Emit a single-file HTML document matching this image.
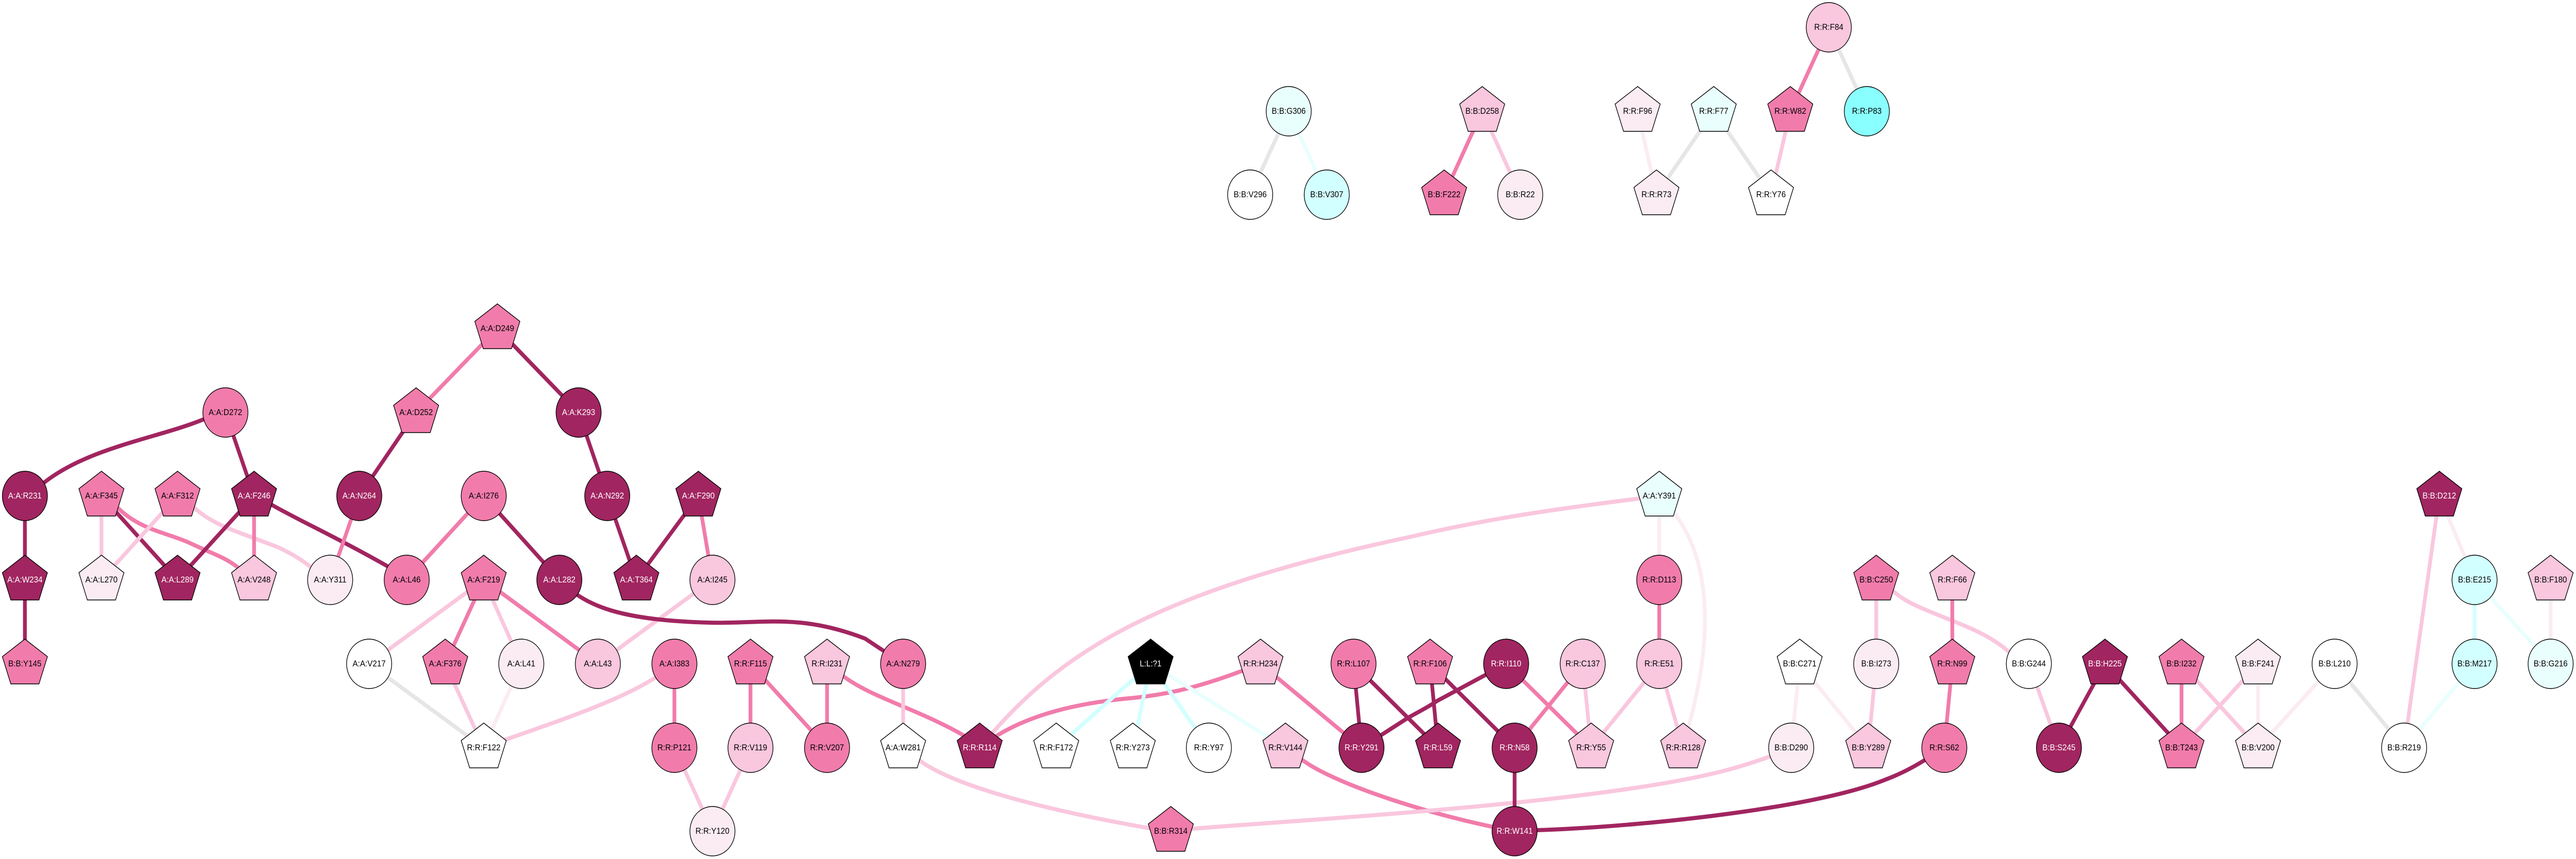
<!DOCTYPE html>
<html><head><meta charset="utf-8"><style>
html,body{margin:0;padding:0;background:#fff;overflow:hidden}
svg{display:block;width:100vw;height:100vh}
text{font-family:"Liberation Sans",Arial,sans-serif;font-size:16.7px;text-anchor:middle;fill:#000}
.n polygon,.n circle{stroke:#000;stroke-width:1.4}
path{fill:none;stroke-width:8}
.D{stroke:#a12560}.M{stroke:#f17cab}.L{stroke:#f9c7de}.V{stroke:#fbecf3}.G{stroke:#e6e6e6}.C{stroke:#d2ffff}.E{stroke:#e9fffd}
.fD{fill:#a12560}.fM{fill:#f17cab}.fL{fill:#f9c7de}.fV{fill:#fbecf3}.fW{fill:#fff}.fC{fill:#d2ffff}.fE{fill:#e9fffd}.fA{fill:#8affff}.fK{fill:#000}
.w{fill:#fff}
</style></head><body>
<svg xmlns="http://www.w3.org/2000/svg" viewBox="0 0 5485 1668" preserveAspectRatio="none">
<g class="e">
<path class="M" d="M1059,638L886,801"/>
<path class="D" d="M1059,638L1232,801"/>
<path class="D" d="M886,801L765,963"/>
<path class="D" d="M1232,801L1293,963"/>
<path class="D" d="M1293,963L1355,1126"/>
<path class="D" d="M1487,963L1355,1126"/>
<path class="M" d="M1487,963L1517,1126"/>
<path class="L" d="M1517,1126L1273,1289"/>
<path class="D" d="M480,801L434,814C340,850 190,868 94,937L53,963"/>
<path class="D" d="M480,801L541,963"/>
<path class="D" d="M53,963L53,1126"/>
<path class="D" d="M53,1126L53,1289"/>
<path class="L" d="M216,963L216,1126"/>
<path class="D" d="M216,963L378,1126"/>
<path class="M" d="M216,963L252,987C300,1030 360,1035 408,1056S475,1080 507,1102L541,1126"/>
<path class="L" d="M378,963L216,1126"/>
<path class="L" d="M378,963L415,987C455,1020 500,1030 593,1063C620,1075 640,1085 663,1102L703,1126"/>
<path class="D" d="M541,963L378,1126"/>
<path class="M" d="M541,963L541,1126"/>
<path class="D" d="M541,963L580,981C640,1012 720,1045 826,1100L866,1126"/>
<path class="M" d="M765,963L703,1126"/>
<path class="M" d="M1030,963L866,1126"/>
<path class="D" d="M1030,963L1191,1126"/>
<path class="D" d="M1191,1126C1240,1170 1300,1204 1510,1209C1620,1212 1700,1190 1842,1240L1923,1289"/>
<path class="L" d="M1030,1126L786,1289"/>
<path class="M" d="M1030,1126L948,1289"/>
<path class="L" d="M1030,1126L1110,1289"/>
<path class="M" d="M1030,1126L1273,1289"/>
<path class="G" d="M786,1289L1030,1452"/>
<path class="L" d="M948,1289L1030,1452"/>
<path class="V" d="M1110,1289L1030,1452"/>
<path class="L" d="M1436,1289L1395,1316C1320,1360 1190,1400 1077,1436L1030,1452"/>
<path class="M" d="M1436,1289L1436,1452"/>
<path class="M" d="M1598,1289L1598,1452"/>
<path class="M" d="M1598,1289L1761,1452"/>
<path class="M" d="M1761,1289L1761,1452"/>
<path class="M" d="M1761,1289L1797,1314C1860,1356 1950,1375 2054,1429L2086,1452"/>
<path class="L" d="M1436,1452L1517,1614"/>
<path class="L" d="M1598,1452L1517,1614"/>
<path class="L" d="M1923,1289L1923,1452"/>
<path class="L" d="M1923,1452L1960,1478C2040,1530 2240,1575 2446,1608L2493,1614"/>
<path class="M" d="M2086,1452C2170,1390 2290,1365 2415,1355C2500,1347 2570,1330 2684,1289"/>
<path class="L" d="M2086,1452C2250,1270 2450,1150 3000,1043C3180,1005 3300,990 3533,963"/>
<path class="M" d="M2684,1289L2899,1452"/>
<path class="C" d="M2450,1289L2249,1452"/>
<path class="C" d="M2450,1289L2412,1452"/>
<path class="C" d="M2450,1289L2574,1452"/>
<path class="E" d="M2450,1289L2737,1452"/>
<path class="M" d="M2737,1452L2772,1475C2840,1522 3050,1585 3225,1614"/>
<path class="L" d="M2493,1614L2542,1609C2800,1590 3400,1560 3670,1497C3720,1485 3770,1470 3814,1452"/>
<path class="D" d="M2882,1289L2899,1452"/>
<path class="D" d="M2882,1289L3062,1452"/>
<path class="D" d="M2899,1452L2996,1395C3010,1387 3038,1375 3060,1361L3207,1289"/>
<path class="D" d="M3045,1289L3062,1452"/>
<path class="D" d="M3045,1289L3225,1452"/>
<path class="M" d="M3207,1289L3388,1452"/>
<path class="M" d="M3370,1289L3225,1452"/>
<path class="L" d="M3370,1289L3388,1452"/>
<path class="L" d="M3533,1289L3388,1452"/>
<path class="L" d="M3533,1289L3584,1452"/>
<path class="M" d="M3533,1126L3533,1289"/>
<path class="V" d="M3533,963L3533,1126"/>
<path class="V" d="M3533,963L3568,1000C3640,1090 3650,1230 3596,1409L3584,1452"/>
<path class="D" d="M3225,1452L3225,1614"/>
<path class="D" d="M3225,1614L3274,1612C3500,1605 3850,1570 4000,1519C4040,1505 4070,1495 4140,1451"/>
<path class="V" d="M3832,1289L3814,1452"/>
<path class="V" d="M3832,1289L3978,1452"/>
<path class="L" d="M3995,1126L3995,1289"/>
<path class="L" d="M3995,1289L3978,1452"/>
<path class="L" d="M3995,1126L4033,1149C4080,1190 4210,1210 4275,1264L4320,1289"/>
<path class="M" d="M4157,1126L4157,1289"/>
<path class="M" d="M4157,1289L4140,1452"/>
<path class="L" d="M4320,1289L4384,1452"/>
<path class="D" d="M4482,1289L4384,1452"/>
<path class="D" d="M4482,1289L4645,1452"/>
<path class="M" d="M4645,1289L4645,1452"/>
<path class="L" d="M4645,1289L4808,1452"/>
<path class="L" d="M4808,1289L4645,1452"/>
<path class="V" d="M4808,1289L4808,1452"/>
<path class="V" d="M4971,1289L4808,1452"/>
<path class="G" d="M4971,1289L5119,1452"/>
<path class="L" d="M5194,963L5119,1452"/>
<path class="V" d="M5194,963L5269,1126"/>
<path class="C" d="M5269,1126L5269,1289"/>
<path class="E" d="M5269,1126L5431,1289"/>
<path class="V" d="M5431,1126L5431,1289"/>
<path class="E" d="M5269,1289L5119,1452"/>
<path class="G" d="M2744,216L2662,378"/>
<path class="E" d="M2744,216L2825,378"/>
<path class="M" d="M3156,216L3075,378"/>
<path class="L" d="M3156,216L3237,378"/>
<path class="V" d="M3487,216L3527,378"/>
<path class="G" d="M3649,216L3527,378"/>
<path class="G" d="M3649,216L3771,378"/>
<path class="L" d="M3812,216L3771,378"/>
<path class="M" d="M3894,53L3812,216"/>
<path class="G" d="M3894,53L3975,216"/>
</g>
<g class="n">
<g transform="translate(1059,638)"><polygon points="0,-48 48,-14 30,39 -30,39 -48,-14" class="fM"/><text y="5">A:A:D249</text></g>
<g transform="translate(886,801)"><polygon points="0,-48 48,-14 30,39 -30,39 -48,-14" class="fM"/><text y="5">A:A:D252</text></g>
<g transform="translate(480,801)"><circle r="48" class="fM"/><text y="5">A:A:D272</text></g>
<g transform="translate(1232,801)"><circle r="48" class="fD"/><text y="5" class="w">A:A:K293</text></g>
<g transform="translate(53,963)"><circle r="48" class="fD"/><text y="5" class="w">A:A:R231</text></g>
<g transform="translate(216,963)"><polygon points="0,-48 48,-14 30,39 -30,39 -48,-14" class="fM"/><text y="5">A:A:F345</text></g>
<g transform="translate(378,963)"><polygon points="0,-48 48,-14 30,39 -30,39 -48,-14" class="fM"/><text y="5">A:A:F312</text></g>
<g transform="translate(541,963)"><polygon points="0,-48 48,-14 30,39 -30,39 -48,-14" class="fD"/><text y="5" class="w">A:A:F246</text></g>
<g transform="translate(765,963)"><circle r="48" class="fD"/><text y="5" class="w">A:A:N264</text></g>
<g transform="translate(1030,963)"><circle r="48" class="fM"/><text y="5">A:A:I276</text></g>
<g transform="translate(1293,963)"><circle r="48" class="fD"/><text y="5" class="w">A:A:N292</text></g>
<g transform="translate(1487,963)"><polygon points="0,-48 48,-14 30,39 -30,39 -48,-14" class="fD"/><text y="5" class="w">A:A:F290</text></g>
<g transform="translate(3533,963)"><polygon points="0,-48 48,-14 30,39 -30,39 -48,-14" class="fE"/><text y="5">A:A:Y391</text></g>
<g transform="translate(5194,963)"><polygon points="0,-48 48,-14 30,39 -30,39 -48,-14" class="fD"/><text y="5" class="w">B:B:D212</text></g>
<g transform="translate(53,1126)"><polygon points="0,-48 48,-14 30,39 -30,39 -48,-14" class="fD"/><text y="5" class="w">A:A:W234</text></g>
<g transform="translate(216,1126)"><polygon points="0,-48 48,-14 30,39 -30,39 -48,-14" class="fV"/><text y="5">A:A:L270</text></g>
<g transform="translate(378,1126)"><polygon points="0,-48 48,-14 30,39 -30,39 -48,-14" class="fD"/><text y="5" class="w">A:A:L289</text></g>
<g transform="translate(541,1126)"><polygon points="0,-48 48,-14 30,39 -30,39 -48,-14" class="fL"/><text y="5">A:A:V248</text></g>
<g transform="translate(703,1126)"><circle r="48" class="fV"/><text y="5">A:A:Y311</text></g>
<g transform="translate(866,1126)"><circle r="48" class="fM"/><text y="5">A:A:L46</text></g>
<g transform="translate(1030,1126)"><polygon points="0,-48 48,-14 30,39 -30,39 -48,-14" class="fM"/><text y="5">A:A:F219</text></g>
<g transform="translate(1191,1126)"><circle r="48" class="fD"/><text y="5" class="w">A:A:L282</text></g>
<g transform="translate(1355,1126)"><polygon points="0,-48 48,-14 30,39 -30,39 -48,-14" class="fD"/><text y="5" class="w">A:A:T364</text></g>
<g transform="translate(1517,1126)"><circle r="48" class="fL"/><text y="5">A:A:I245</text></g>
<g transform="translate(3533,1126)"><circle r="48" class="fM"/><text y="5">R:R:D113</text></g>
<g transform="translate(3995,1126)"><polygon points="0,-48 48,-14 30,39 -30,39 -48,-14" class="fM"/><text y="5">B:B:C250</text></g>
<g transform="translate(4157,1126)"><polygon points="0,-48 48,-14 30,39 -30,39 -48,-14" class="fL"/><text y="5">R:R:F66</text></g>
<g transform="translate(5269,1126)"><circle r="48" class="fC"/><text y="5">B:B:E215</text></g>
<g transform="translate(5431,1126)"><polygon points="0,-48 48,-14 30,39 -30,39 -48,-14" class="fL"/><text y="5">B:B:F180</text></g>
<g transform="translate(53,1289)"><polygon points="0,-48 48,-14 30,39 -30,39 -48,-14" class="fM"/><text y="5">B:B:Y145</text></g>
<g transform="translate(786,1289)"><circle r="48" class="fW"/><text y="5">A:A:V217</text></g>
<g transform="translate(948,1289)"><polygon points="0,-48 48,-14 30,39 -30,39 -48,-14" class="fM"/><text y="5">A:A:F376</text></g>
<g transform="translate(1110,1289)"><circle r="48" class="fV"/><text y="5">A:A:L41</text></g>
<g transform="translate(1273,1289)"><circle r="48" class="fL"/><text y="5">A:A:L43</text></g>
<g transform="translate(1436,1289)"><circle r="48" class="fM"/><text y="5">A:A:I383</text></g>
<g transform="translate(1598,1289)"><polygon points="0,-48 48,-14 30,39 -30,39 -48,-14" class="fM"/><text y="5">R:R:F115</text></g>
<g transform="translate(1761,1289)"><polygon points="0,-48 48,-14 30,39 -30,39 -48,-14" class="fL"/><text y="5">R:R:I231</text></g>
<g transform="translate(1923,1289)"><circle r="48" class="fM"/><text y="5">A:A:N279</text></g>
<g transform="translate(2450,1289)"><polygon points="0,-48 48,-14 30,39 -30,39 -48,-14" class="fK"/><text y="5" class="w">L:L:?1</text></g>
<g transform="translate(2684,1289)"><polygon points="0,-48 48,-14 30,39 -30,39 -48,-14" class="fL"/><text y="5">R:R:H234</text></g>
<g transform="translate(2882,1289)"><circle r="48" class="fM"/><text y="5">R:R:L107</text></g>
<g transform="translate(3045,1289)"><polygon points="0,-48 48,-14 30,39 -30,39 -48,-14" class="fM"/><text y="5">R:R:F106</text></g>
<g transform="translate(3207,1289)"><circle r="48" class="fD"/><text y="5" class="w">R:R:I110</text></g>
<g transform="translate(3370,1289)"><circle r="48" class="fL"/><text y="5">R:R:C137</text></g>
<g transform="translate(3533,1289)"><circle r="48" class="fL"/><text y="5">R:R:E51</text></g>
<g transform="translate(3832,1289)"><polygon points="0,-48 48,-14 30,39 -30,39 -48,-14" class="fW"/><text y="5">B:B:C271</text></g>
<g transform="translate(3995,1289)"><circle r="48" class="fV"/><text y="5">B:B:I273</text></g>
<g transform="translate(4157,1289)"><polygon points="0,-48 48,-14 30,39 -30,39 -48,-14" class="fM"/><text y="5">R:R:N99</text></g>
<g transform="translate(4320,1289)"><circle r="48" class="fW"/><text y="5">B:B:G244</text></g>
<g transform="translate(4482,1289)"><polygon points="0,-48 48,-14 30,39 -30,39 -48,-14" class="fD"/><text y="5" class="w">B:B:H225</text></g>
<g transform="translate(4645,1289)"><polygon points="0,-48 48,-14 30,39 -30,39 -48,-14" class="fM"/><text y="5">B:B:I232</text></g>
<g transform="translate(4808,1289)"><polygon points="0,-48 48,-14 30,39 -30,39 -48,-14" class="fV"/><text y="5">B:B:F241</text></g>
<g transform="translate(4971,1289)"><circle r="48" class="fW"/><text y="5">B:B:L210</text></g>
<g transform="translate(5269,1289)"><circle r="48" class="fC"/><text y="5">B:B:M217</text></g>
<g transform="translate(5431,1289)"><circle r="48" class="fE"/><text y="5">B:B:G216</text></g>
<g transform="translate(1030,1452)"><polygon points="0,-48 48,-14 30,39 -30,39 -48,-14" class="fW"/><text y="5">R:R:F122</text></g>
<g transform="translate(1436,1452)"><circle r="48" class="fM"/><text y="5">R:R:P121</text></g>
<g transform="translate(1598,1452)"><circle r="48" class="fL"/><text y="5">R:R:V119</text></g>
<g transform="translate(1761,1452)"><circle r="48" class="fM"/><text y="5">R:R:V207</text></g>
<g transform="translate(1923,1452)"><polygon points="0,-48 48,-14 30,39 -30,39 -48,-14" class="fW"/><text y="5">A:A:W281</text></g>
<g transform="translate(2086,1452)"><polygon points="0,-48 48,-14 30,39 -30,39 -48,-14" class="fD"/><text y="5" class="w">R:R:R114</text></g>
<g transform="translate(2249,1452)"><polygon points="0,-48 48,-14 30,39 -30,39 -48,-14" class="fW"/><text y="5">R:R:F172</text></g>
<g transform="translate(2412,1452)"><polygon points="0,-48 48,-14 30,39 -30,39 -48,-14" class="fW"/><text y="5">R:R:Y273</text></g>
<g transform="translate(2574,1452)"><circle r="48" class="fW"/><text y="5">R:R:Y97</text></g>
<g transform="translate(2737,1452)"><polygon points="0,-48 48,-14 30,39 -30,39 -48,-14" class="fL"/><text y="5">R:R:V144</text></g>
<g transform="translate(2899,1452)"><circle r="48" class="fD"/><text y="5" class="w">R:R:Y291</text></g>
<g transform="translate(3062,1452)"><polygon points="0,-48 48,-14 30,39 -30,39 -48,-14" class="fD"/><text y="5" class="w">R:R:L59</text></g>
<g transform="translate(3225,1452)"><circle r="48" class="fD"/><text y="5" class="w">R:R:N58</text></g>
<g transform="translate(3388,1452)"><polygon points="0,-48 48,-14 30,39 -30,39 -48,-14" class="fL"/><text y="5">R:R:Y55</text></g>
<g transform="translate(3584,1452)"><polygon points="0,-48 48,-14 30,39 -30,39 -48,-14" class="fL"/><text y="5">R:R:R128</text></g>
<g transform="translate(3814,1452)"><circle r="48" class="fV"/><text y="5">B:B:D290</text></g>
<g transform="translate(3978,1452)"><polygon points="0,-48 48,-14 30,39 -30,39 -48,-14" class="fL"/><text y="5">B:B:Y289</text></g>
<g transform="translate(4140,1452)"><circle r="48" class="fM"/><text y="5">R:R:S62</text></g>
<g transform="translate(4384,1452)"><circle r="48" class="fD"/><text y="5" class="w">B:B:S245</text></g>
<g transform="translate(4645,1452)"><polygon points="0,-48 48,-14 30,39 -30,39 -48,-14" class="fM"/><text y="5">B:B:T243</text></g>
<g transform="translate(4808,1452)"><polygon points="0,-48 48,-14 30,39 -30,39 -48,-14" class="fV"/><text y="5">B:B:V200</text></g>
<g transform="translate(5119,1452)"><circle r="48" class="fW"/><text y="5">B:B:R219</text></g>
<g transform="translate(1517,1614)"><circle r="48" class="fV"/><text y="5">R:R:Y120</text></g>
<g transform="translate(2493,1614)"><polygon points="0,-48 48,-14 30,39 -30,39 -48,-14" class="fM"/><text y="5">B:B:R314</text></g>
<g transform="translate(3225,1614)"><circle r="48" class="fD"/><text y="5" class="w">R:R:W141</text></g>
<g transform="translate(3894,53)"><circle r="48" class="fL"/><text y="5">R:R:F84</text></g>
<g transform="translate(2744,216)"><circle r="48" class="fE"/><text y="5">B:B:G306</text></g>
<g transform="translate(3156,216)"><polygon points="0,-48 48,-14 30,39 -30,39 -48,-14" class="fL"/><text y="5">B:B:D258</text></g>
<g transform="translate(3487,216)"><polygon points="0,-48 48,-14 30,39 -30,39 -48,-14" class="fV"/><text y="5">R:R:F96</text></g>
<g transform="translate(3649,216)"><polygon points="0,-48 48,-14 30,39 -30,39 -48,-14" class="fE"/><text y="5">R:R:F77</text></g>
<g transform="translate(3812,216)"><polygon points="0,-48 48,-14 30,39 -30,39 -48,-14" class="fM"/><text y="5">R:R:W82</text></g>
<g transform="translate(3975,216)"><circle r="48" class="fA"/><text y="5">R:R:P83</text></g>
<g transform="translate(2662,378)"><circle r="48" class="fW"/><text y="5">B:B:V296</text></g>
<g transform="translate(2825,378)"><circle r="48" class="fC"/><text y="5">B:B:V307</text></g>
<g transform="translate(3075,378)"><polygon points="0,-48 48,-14 30,39 -30,39 -48,-14" class="fM"/><text y="5">B:B:F222</text></g>
<g transform="translate(3237,378)"><circle r="48" class="fV"/><text y="5">B:B:R22</text></g>
<g transform="translate(3527,378)"><polygon points="0,-48 48,-14 30,39 -30,39 -48,-14" class="fV"/><text y="5">R:R:R73</text></g>
<g transform="translate(3771,378)"><polygon points="0,-48 48,-14 30,39 -30,39 -48,-14" class="fW"/><text y="5">R:R:Y76</text></g>
</g>
</svg>
</body></html>
